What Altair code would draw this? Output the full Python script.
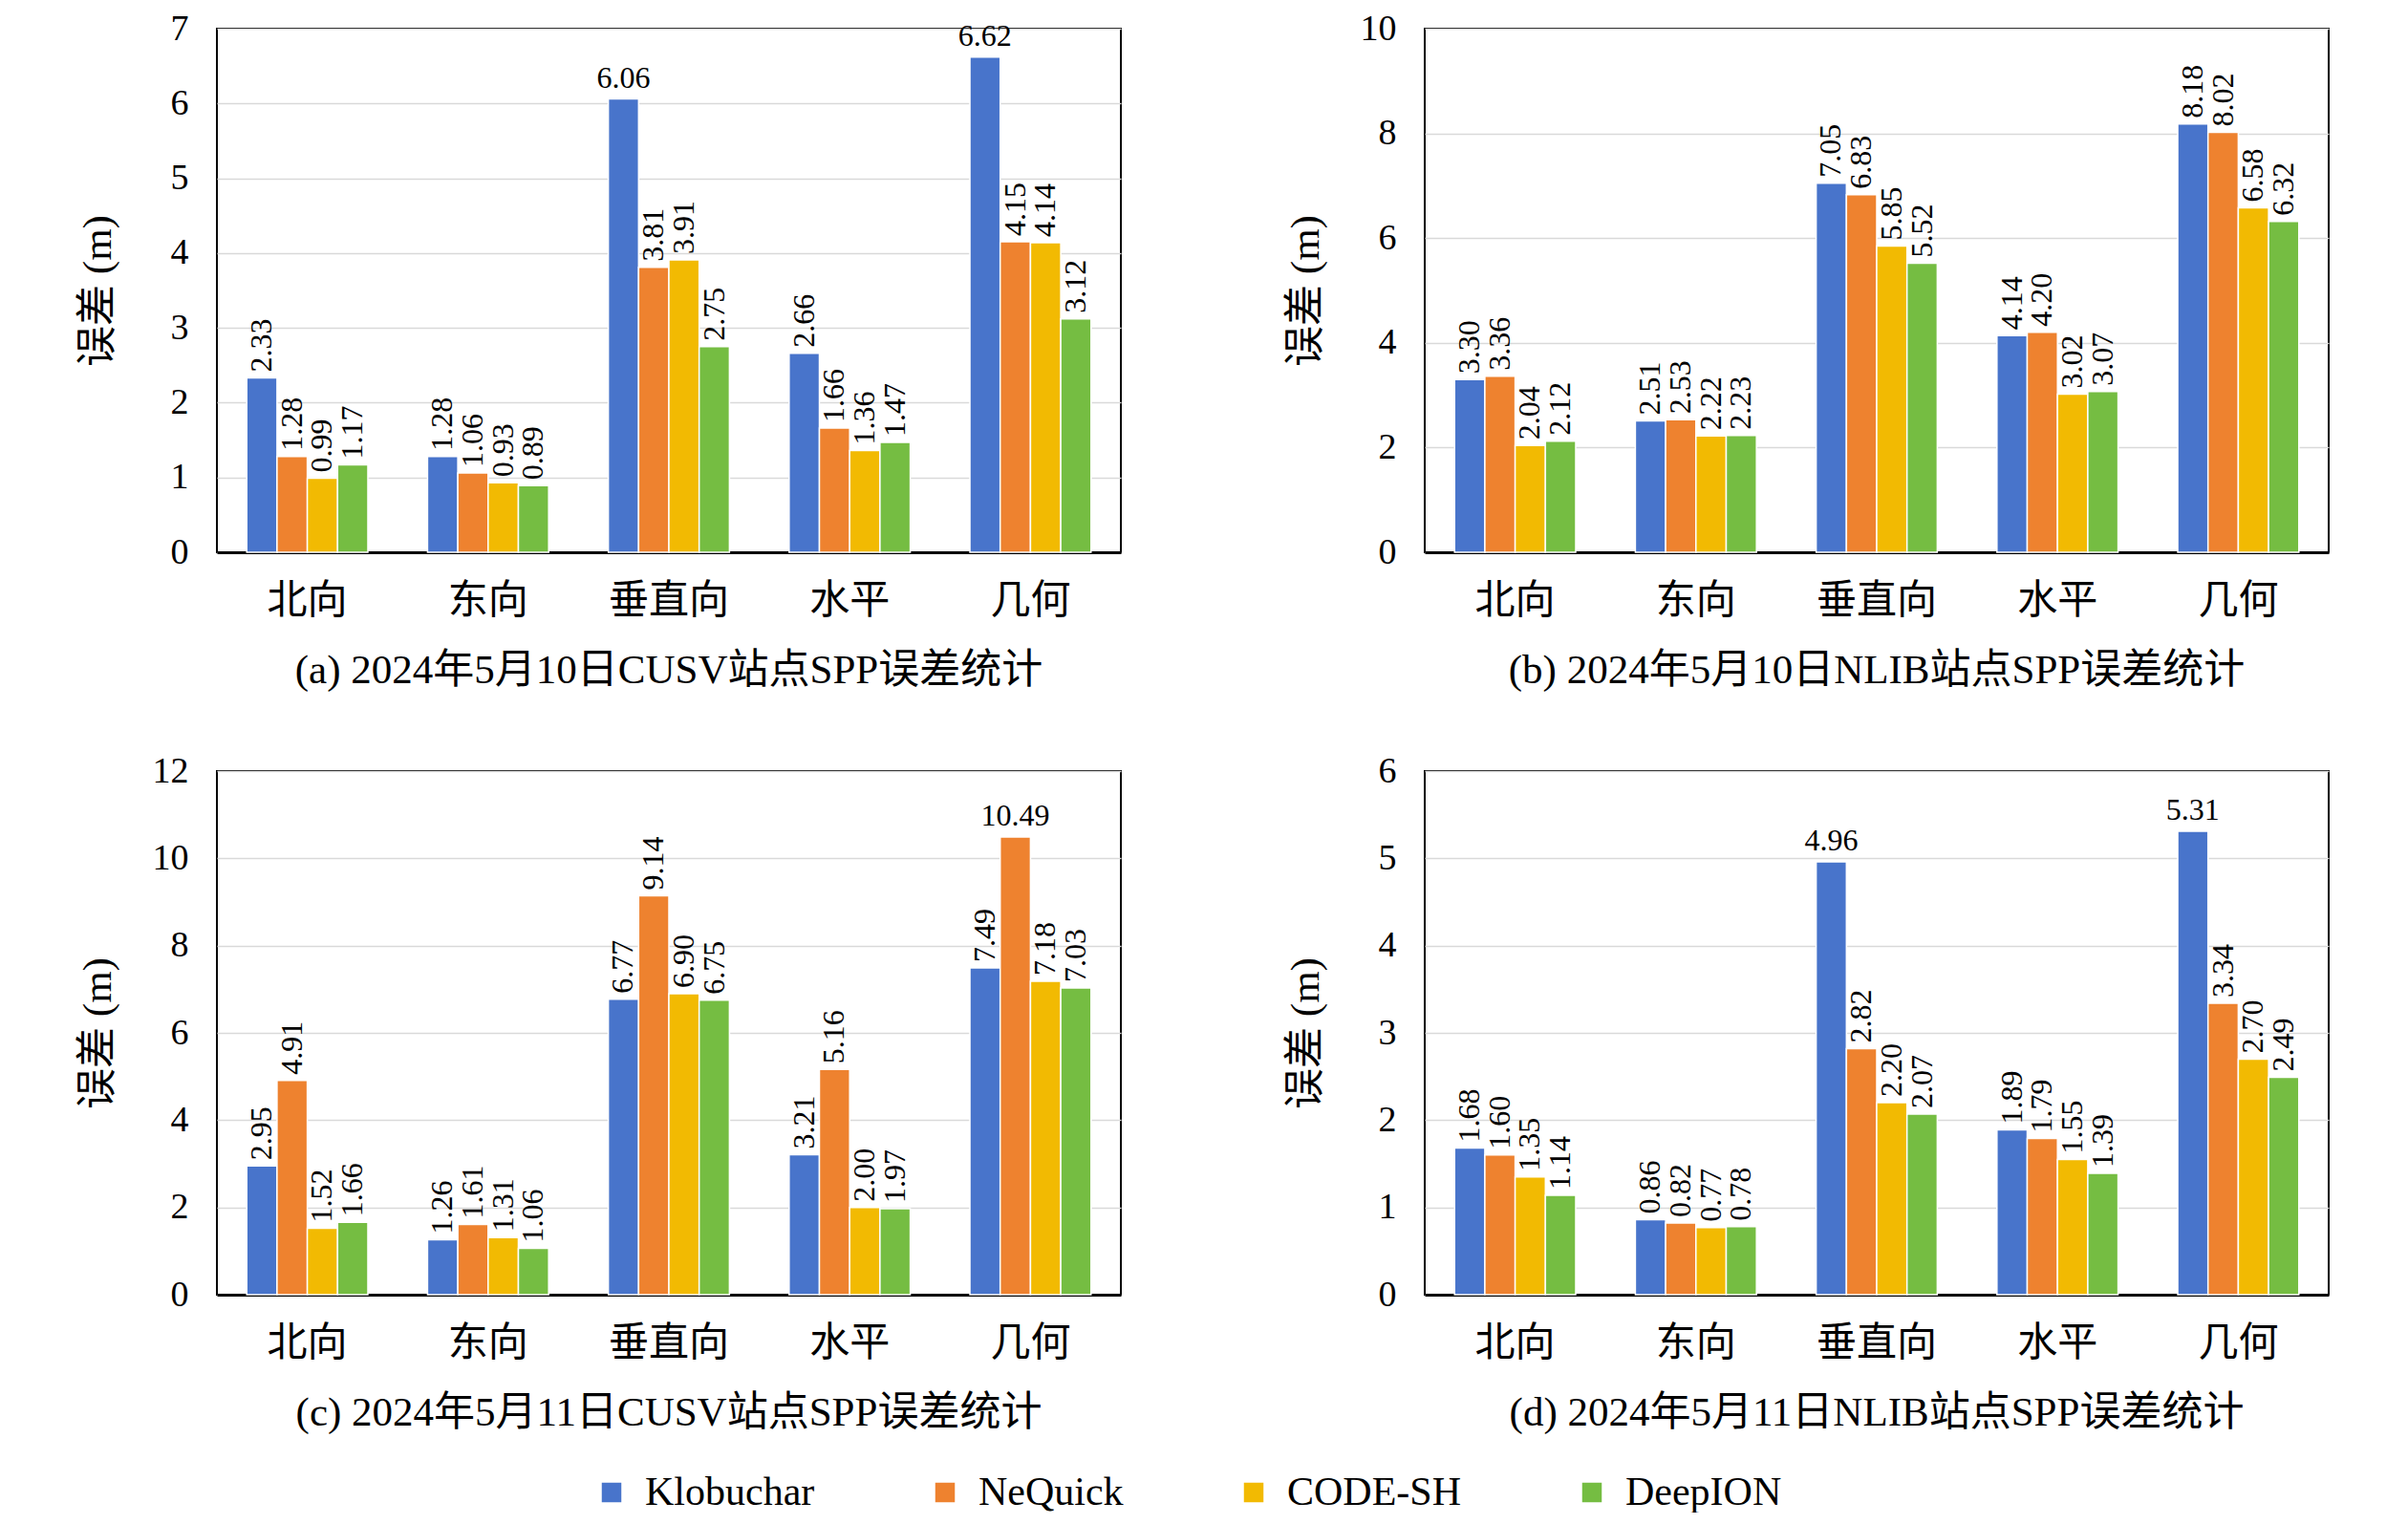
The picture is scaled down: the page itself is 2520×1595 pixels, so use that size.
import altair as alt
import pandas as pd

cats = ["北向", "东向", "垂直向", "水平", "几何"]
series = ["Klobuchar", "NeQuick", "CODE-SH", "DeepION"]
colors = ["#4874CB", "#EE822F", "#F2BA02", "#75BD42"]

a_vals = {
    "Klobuchar": [2.33, 1.28, 6.06, 2.66, 6.62],
    "NeQuick": [1.28, 1.06, 3.81, 1.66, 4.15],
    "CODE-SH": [0.99, 0.93, 3.91, 1.36, 4.14],
    "DeepION": [1.17, 0.89, 2.75, 1.47, 3.12],
}
b_vals = {
    "Klobuchar": [3.30, 2.51, 7.05, 4.14, 8.18],
    "NeQuick": [3.36, 2.53, 6.83, 4.20, 8.02],
    "CODE-SH": [2.04, 2.22, 5.85, 3.02, 6.58],
    "DeepION": [2.12, 2.23, 5.52, 3.07, 6.32],
}
c_vals = {
    "Klobuchar": [2.95, 1.26, 6.77, 3.21, 7.49],
    "NeQuick": [4.91, 1.61, 9.14, 5.16, 10.49],
    "CODE-SH": [1.52, 1.31, 6.90, 2.00, 7.18],
    "DeepION": [1.66, 1.06, 6.75, 1.97, 7.03],
}
d_vals = {
    "Klobuchar": [1.68, 0.86, 4.96, 1.89, 5.31],
    "NeQuick": [1.60, 0.82, 2.82, 1.79, 3.34],
    "CODE-SH": [1.35, 0.77, 2.20, 1.55, 2.70],
    "DeepION": [1.14, 0.78, 2.07, 1.39, 2.49],
}

# labels drawn horizontally (series, category)
a_flat = [("Klobuchar", "垂直向"), ("Klobuchar", "几何")]
b_flat = []
c_flat = [("NeQuick", "几何")]
d_flat = [("Klobuchar", "垂直向"), ("Klobuchar", "几何")]

titles = [
    "(a) 2024年5月10日CUSV站点SPP误差统计",
    "(b) 2024年5月10日NLIB站点SPP误差统计",
    "(c) 2024年5月11日CUSV站点SPP误差统计",
    "(d) 2024年5月11日NLIB站点SPP误差统计",
]
y_max = [7, 10, 12, 6]
y_step = [1, 2, 2, 1]

FONT = "Liberation Serif, Noto Sans CJK SC"
W, H = 946, 548


def panel(vals, flat, ymax, step, title):
    rows = []
    for s in series:
        for c, v in zip(cats, vals[s]):
            rows.append({"cat": c, "series": s, "val": v, "flat": (s, c) in flat})
    df = pd.DataFrame(rows)
    base = alt.Chart(df)
    x = alt.X("cat:N", sort=cats,
              scale=alt.Scale(paddingInner=0.33, paddingOuter=0.165),
              axis=alt.Axis(title=None, labelAngle=0, labelFontSize=42, labelPadding=30,
                            ticks=False, domain=True, domainColor="black", domainWidth=3,
                            labelFont=FONT, labelColor="black"))
    xo = alt.XOffset("series:N", sort=series, scale=alt.Scale(paddingInner=0))
    y = alt.Y("val:Q", scale=alt.Scale(domain=[0, ymax], nice=False),
              axis=alt.Axis(title="误差 (m)", values=list(range(0, ymax + 1, step)),
                            ticks=False, domain=False, labelFontSize=38, labelPadding=30,
                            labelFont=FONT, labelColor="black", titleFont=FONT,
                            titleFontSize=43, titleFontWeight="normal", titleColor="black",
                            titlePadding=23, minExtent=80, maxExtent=80,
                            gridColor="#d9d9d9", gridWidth=1.5))
    bars = base.mark_bar(stroke="white", strokeWidth=1.5).encode(
        x=x, xOffset=xo, y=y,
        color=alt.Color("series:N", sort=series,
                        scale=alt.Scale(domain=series, range=colors),
                        legend=alt.Legend(title=None)))
    rot = base.transform_filter("!datum.flat").mark_text(
        angle=270, align="left", baseline="middle", dx=6, fontSize=32, font=FONT,
        color="black").encode(x=x, xOffset=xo, y=y, text=alt.Text("val:Q", format=".2f"))
    flt = base.transform_filter("datum.flat").mark_text(
        align="center", baseline="bottom", dy=-5, fontSize=32, font=FONT,
        color="black").encode(x=x, xOffset=xo, y=y, text=alt.Text("val:Q", format=".2f"))
    return alt.layer(bars, rot, flt).properties(
        width=W, height=H,
        title=alt.TitleParams(title, orient="bottom", anchor="middle", frame="group",
                              font=FONT, fontSize=43, fontWeight="normal",
                              color="black", offset=32))


pa = panel(a_vals, a_flat, y_max[0], y_step[0], titles[0])
pb = panel(b_vals, b_flat, y_max[1], y_step[1], titles[1])
pc = panel(c_vals, c_flat, y_max[2], y_step[2], titles[2])
pd_ = panel(d_vals, d_flat, y_max[3], y_step[3], titles[3])

chart = alt.vconcat(
    alt.hconcat(pa, pb, spacing=170),
    alt.hconcat(pc, pd_, spacing=170),
    spacing=62,
).properties(
    padding={"left": 72, "top": 2, "right": 0, "bottom": 0}
).configure_view(
    stroke="black", strokeWidth=2
).configure_legend(
    orient="none", legendX=392, legendY=1511, direction="horizontal",
    symbolType="square", symbolSize=420,
    symbolStrokeWidth=0, labelFont=FONT, labelFontSize=42, labelColor="black",
    columnPadding=115, labelOffset=14, labelLimit=400
)

chart.save("out.html", embed_options={"renderer": "svg", "actions": False})
